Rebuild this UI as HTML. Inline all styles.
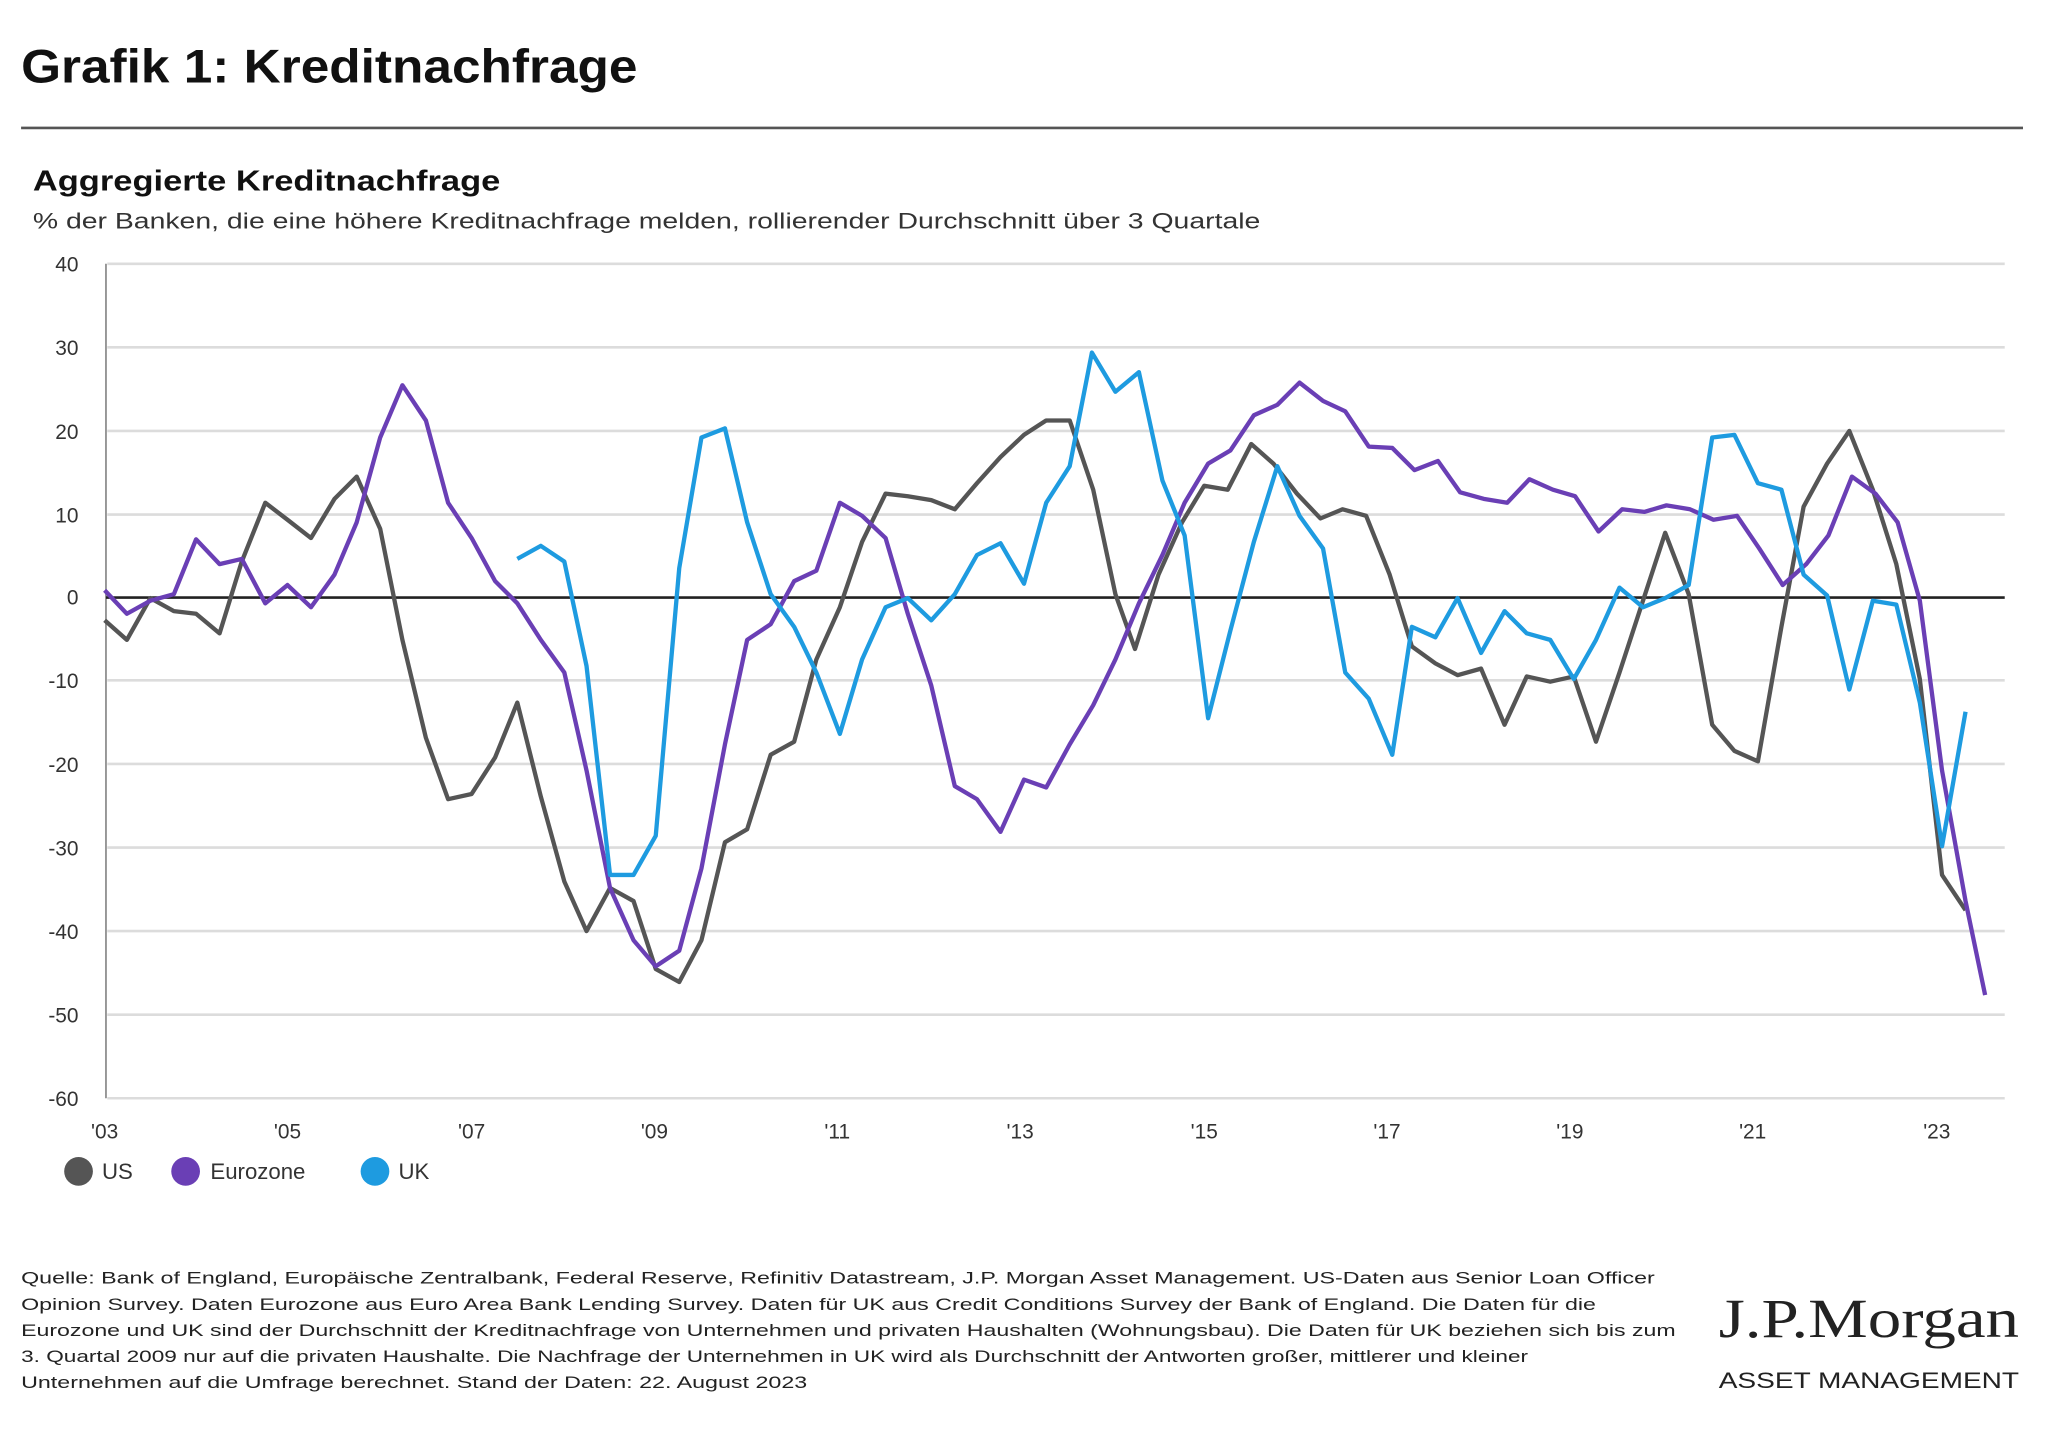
<!DOCTYPE html>
<html><head><meta charset="utf-8"><style>html,body{margin:0;padding:0;background:#fff}svg{display:block}</style></head><body>
<svg width="2048" height="1443" viewBox="0 0 1568 1105" xmlns="http://www.w3.org/2000/svg" font-family="Liberation Sans, Arial, sans-serif">
<rect width="1568" height="1105" fill="#fff"/>
<text x="16" y="63" font-size="36" font-weight="bold" fill="#111" textLength="472" lengthAdjust="spacingAndGlyphs">Grafik 1: Kreditnachfrage</text>
<line x1="16" y1="98" x2="1549" y2="98" stroke="#555" stroke-width="2"/>
<text x="25" y="146" font-size="22" font-weight="bold" fill="#111" textLength="358" lengthAdjust="spacingAndGlyphs">Aggregierte Kreditnachfrage</text>
<text x="25" y="175" font-size="17" fill="#333" textLength="940" lengthAdjust="spacingAndGlyphs">% der Banken, die eine höhere Kreditnachfrage melden, rollierender Durchschnitt über 3 Quartale</text>
<g stroke="#dcdcdc" stroke-width="2">
<line x1="82" y1="202" x2="1535" y2="202"/><line x1="82" y1="266" x2="1535" y2="266"/><line x1="82" y1="330" x2="1535" y2="330"/><line x1="82" y1="394" x2="1535" y2="394"/><line x1="82" y1="521" x2="1535" y2="521"/><line x1="82" y1="585" x2="1535" y2="585"/><line x1="82" y1="649" x2="1535" y2="649"/><line x1="82" y1="713" x2="1535" y2="713"/><line x1="82" y1="777" x2="1535" y2="777"/><line x1="82" y1="841" x2="1535" y2="841"/>
</g>
<line x1="81" y1="202" x2="81" y2="841" stroke="#888" stroke-width="1.3"/>
<line x1="81" y1="457.6" x2="1535" y2="457.6" stroke="#222" stroke-width="2"/>
<g font-size="16" fill="#333" text-anchor="end">
<text x="60" y="208">40</text><text x="60" y="272">30</text><text x="60" y="336">20</text><text x="60" y="400">10</text><text x="60" y="463">0</text><text x="60" y="527">-10</text><text x="60" y="591">-20</text><text x="60" y="655">-30</text><text x="60" y="719">-40</text><text x="60" y="783">-50</text><text x="60" y="847">-60</text>
</g>
<g font-size="16" fill="#333" text-anchor="middle">
<text x="80" y="872">'03</text><text x="220" y="872">'05</text><text x="361" y="872">'07</text><text x="501" y="872">'09</text><text x="641" y="872">'11</text><text x="781" y="872">'13</text><text x="922" y="872">'15</text><text x="1062" y="872">'17</text><text x="1202" y="872">'19</text><text x="1342" y="872">'21</text><text x="1483" y="872">'23</text>
</g>
<g fill="none" stroke-width="3.3" stroke-linejoin="round">
<polyline stroke="#555" points="80,475 97,490 115,458 133,468 150,470 168,485 185,430 203,385 220,398 238,412 256,382 273,365 291,405 308,490 326,565 343,612 361,608 379,580 396,538 414,610 432,675 449,713 467,680 485,690 502,742 520,752 537,720 555,645 572,635 590,578 608,568 625,505 643,465 660,415 678,378 695,380 713,383 731,390 748,370 766,350 784,333 801,322 819,322 837,375 854,455 869,497 887,440 905,400 922,372 940,375 958,340 975,355 993,378 1011,397 1028,390 1046,395 1064,440 1081,495 1099,508 1116,517 1134,512 1152,555 1169,518 1187,522 1205,518 1222,568 1240,515 1258,460 1275,408 1293,455 1311,555 1328,575 1346,583 1364,480 1381,388 1399,355 1416,330 1434,375 1452,432 1470,520 1487,670 1505,697"/>
<polyline stroke="#6a3fb5" points="80,452 97,470 115,460 133,455 150,413 168,432 185,428 203,462 220,448 238,465 256,440 273,400 291,335 308,295 326,322 343,385 361,412 379,445 396,462 414,490 432,515 449,590 467,680 485,720 502,740 520,728 537,665 555,570 572,490 590,478 608,445 625,437 643,385 660,395 678,412 695,470 713,525 731,602 748,612 766,637 784,597 801,603 819,570 837,540 854,505 872,462 890,425 907,385 925,355 942,345 960,318 978,310 995,293 1013,307 1030,315 1048,342 1066,343 1083,360 1101,353 1118,377 1136,382 1154,385 1171,367 1189,375 1206,380 1224,407 1242,390 1259,392 1276,387 1294,390 1312,398 1330,395 1347,420 1365,448 1383,432 1400,410 1418,365 1436,378 1453,400 1470,460 1487,590 1505,690 1520,762"/>
<polyline stroke="#1e9be0" points="396,428 414,418 432,430 449,510 467,670 485,670 502,640 520,435 537,335 555,328 572,400 590,455 608,480 625,515 643,562 660,505 678,465 695,458 713,475 731,455 748,425 766,416 784,447 801,385 819,357 836,270 854,300 872,285 890,368 907,410 925,550 942,483 960,415 978,357 995,395 1013,420 1030,515 1048,535 1066,578 1081,480 1099,488 1116,458 1134,500 1152,468 1169,485 1187,490 1205,520 1222,490 1240,450 1258,465 1275,458 1293,448 1311,335 1328,333 1346,370 1364,375 1381,440 1399,456 1416,528 1434,460 1452,463 1470,538 1487,648 1505,545"/>
</g>
<circle cx="60" cy="897" r="11" fill="#555"/><text x="78" y="903" font-size="17" fill="#333">US</text>
<circle cx="142" cy="897" r="11" fill="#6a3fb5"/><text x="161" y="903" font-size="17" fill="#333">Eurozone</text>
<circle cx="287" cy="897" r="11" fill="#1e9be0"/><text x="305" y="903" font-size="17" fill="#333">UK</text>
<g font-size="13" fill="#222">
<text x="16" y="983" textLength="1251" lengthAdjust="spacingAndGlyphs">Quelle: Bank of England, Europäische Zentralbank, Federal Reserve, Refinitiv Datastream, J.P. Morgan Asset Management. US-Daten aus Senior Loan Officer</text>
<text x="16" y="1003" textLength="1206" lengthAdjust="spacingAndGlyphs">Opinion Survey. Daten Eurozone aus Euro Area Bank Lending Survey. Daten für UK aus Credit Conditions Survey der Bank of England. Die Daten für die</text>
<text x="16" y="1023" textLength="1267" lengthAdjust="spacingAndGlyphs">Eurozone und UK sind der Durchschnitt der Kreditnachfrage von Unternehmen und privaten Haushalten (Wohnungsbau). Die Daten für UK beziehen sich bis zum</text>
<text x="16" y="1043" textLength="1154" lengthAdjust="spacingAndGlyphs">3. Quartal 2009 nur auf die privaten Haushalte. Die Nachfrage der Unternehmen in UK wird als Durchschnitt der Antworten großer, mittlerer und kleiner</text>
<text x="16" y="1063" textLength="602" lengthAdjust="spacingAndGlyphs">Unternehmen auf die Umfrage berechnet. Stand der Daten: 22. August 2023</text>
</g>
<text x="1316" y="1024" font-family="Liberation Serif, serif" font-size="42" fill="#222" textLength="230" lengthAdjust="spacingAndGlyphs">J.P.Morgan</text>
<text x="1316" y="1063" font-size="17" fill="#222" textLength="230" lengthAdjust="spacingAndGlyphs">ASSET MANAGEMENT</text>
</svg>
</body></html>
